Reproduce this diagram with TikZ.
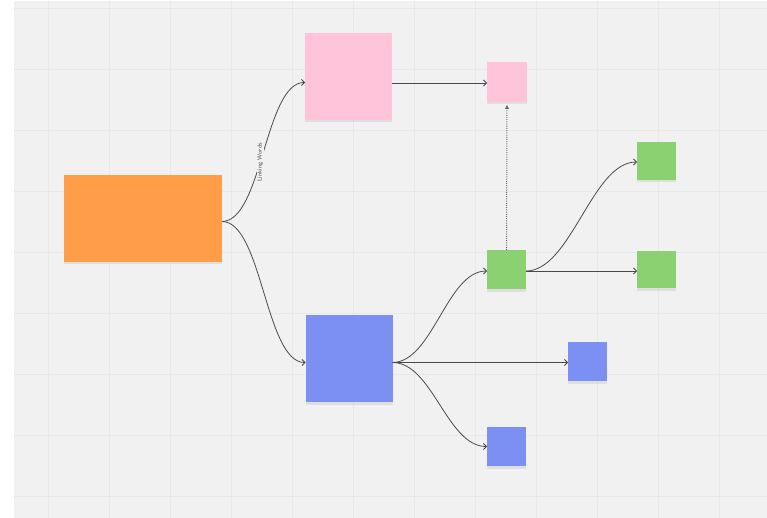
\documentclass[tikz,border=0pt]{standalone}
\usetikzlibrary{arrows.meta,shadows}
\definecolor{bgc}{HTML}{F1F1F1}
\definecolor{gridc}{HTML}{E8E8E8}
\definecolor{linec}{HTML}{4A4A4A}
\definecolor{dotc}{HTML}{6A6A6A}
\definecolor{orangec}{HTML}{FF9D48}
\definecolor{pinkc}{HTML}{FFC4DA}
\definecolor{bluec}{HTML}{7B90F2}
\definecolor{greenc}{HTML}{8BD172}
\begin{document}
\begin{tikzpicture}[x=1pt,y=-1pt,
  note/.style={draw=none, inner sep=0pt, outer sep=0pt,
    drop shadow={shadow xshift=0pt, shadow yshift=-2.5pt, opacity=0.07, fill=black}},
  bignote/.style={note, minimum width=87pt, minimum height=87pt},
  smallnote/.style={note, minimum width=39pt, minimum height=39pt},
  conn/.style={draw=linec, line width=0.8pt, -{Straight Barb[length=3pt,width=6pt]}},
  dotconn/.style={draw=dotc, line width=1pt, dash pattern=on 1pt off 1.2pt,
    -{Triangle[length=4pt,width=4pt]}, shorten >=3pt},
  linklabel/.style={fill=bgc, inner sep=1pt, text=linec, rotate=90,
    font=\sffamily\fontsize{6}{7}\selectfont},
  gridline/.style={draw=gridc, line width=0.9pt}
]
\useasboundingbox (0,0) rectangle (767,518);
\fill[white] (0,0) rectangle (767,518);
\fill[bgc] (14,1) rectangle (767,518);
\foreach \x in {48,109,...,719} \draw[gridline] (\x,1) -- (\x,518);
\foreach \y in {8,69,...,496} \draw[gridline] (14,\y) -- (767,\y);

% notes
\node[note, fill=orangec, minimum width=158pt, minimum height=87pt] (root) at (143,218.5) {};
\node[bignote, fill=pinkc] (pinkA) at (348.5,76.5) {};
\node[bignote, fill=bluec] (blueA) at (349,358.5) {};
\node[smallnote, fill=pinkc, minimum width=40pt, minimum height=40pt] (pinkB) at (507,82) {};
\node[smallnote, fill=greenc] (greenA) at (506.5,269.5) {};
\node[smallnote, fill=greenc, minimum height=38pt] (greenB) at (656.5,161) {};
\node[smallnote, fill=greenc, minimum height=37pt] (greenC) at (656.5,269.5) {};
\node[smallnote, fill=bluec] (blueB) at (587.5,361.5) {};
\node[smallnote, fill=bluec] (blueC) at (506.5,446.5) {};

% connectors
\draw[conn] ([yshift=-3pt]root.east) .. controls +(40,0) and +(-40,0) .. ([yshift=-6pt]pinkA.west)
  node[pos=0.45, linklabel] (lbl) {Linking Words};
\draw[conn] ([yshift=-3pt]root.east) .. controls +(40,0) and +(-40,0) .. ([yshift=-4pt]blueA.west);
\draw[conn] ([yshift=-6.5pt]pinkA.east) -- ([yshift=-1pt]pinkB.west);
\draw[dotconn] (greenA.north) -- (pinkB.south);
\draw[conn] ([yshift=-4pt]blueA.east) .. controls +(40,0) and +(-40,0) .. ([yshift=-1.5pt]greenA.west);
\draw[conn] ([yshift=-4pt]blueA.east) -- ([yshift=-1pt]blueB.west);
\draw[conn] ([yshift=-4pt]blueA.east) .. controls +(40,0) and +(-40,0) .. (blueC.west);
\draw[conn] ([yshift=-1.5pt]greenA.east) .. controls +(45,0) and +(-45,0) .. ([yshift=-1pt]greenB.west);
\draw[conn] ([yshift=-1.5pt]greenA.east) -- ([yshift=-1.5pt]greenC.west);
\end{tikzpicture}
\end{document}
